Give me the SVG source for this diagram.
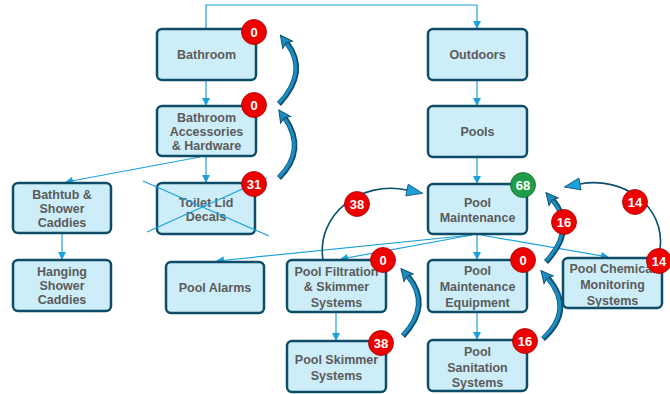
<svg xmlns="http://www.w3.org/2000/svg" width="670" height="394" viewBox="0 0 670 394">
<defs>
<style>
.node rect{fill:#cdeef9;stroke:#0f4c68;stroke-width:2.5}
.node text{font-family:"Liberation Sans",Arial,sans-serif;font-weight:bold;font-size:12.5px;fill:#5b5b5b;text-anchor:middle}
.conn{fill:none;stroke:#1ba1dc;stroke-width:1.2}
.badge circle{stroke:#a00000;stroke-width:0.8}
.badge text{font-family:"Liberation Sans",Arial,sans-serif;font-weight:bold;font-size:13px;fill:#fff;text-anchor:middle}
.red{fill:#ee0000}
.green{fill:#1e9e48}
.arcO{fill:none;stroke:#0d4f6e;stroke-width:5.5;stroke-linecap:butt}
.arcI{fill:none;stroke:#1b8fc4;stroke-width:3;stroke-linecap:butt}
.thin{fill:none;stroke:#0d4f6e;stroke-width:1.6}
</style>
<marker id="ah" viewBox="0 0 8 8" refX="7" refY="4" markerWidth="8" markerHeight="8" markerUnits="userSpaceOnUse" orient="auto">
<path d="M0,0 L8,4 L0,8 Z" fill="#1ba1dc"/>
</marker>
<marker id="big" viewBox="-1 -7 14 14" refX="1" refY="0" markerWidth="14" markerHeight="14" markerUnits="userSpaceOnUse" orient="auto">
<path d="M0,-6 L12,0 L0,6 L2.5,0 Z" fill="#1b8fc4" stroke="#0d4f6e" stroke-width="1"/>
</marker>
<marker id="tri" viewBox="-1 -8 18 16" refX="0" refY="0" markerWidth="18" markerHeight="16" markerUnits="userSpaceOnUse" orient="auto">
<path d="M0,-6 L16,0 L0,6 Z" fill="#1ba1dc" stroke="#0d4f6e" stroke-width="0.8"/>
</marker>
</defs>
<rect width="670" height="394" fill="#fff"/>
<g id="connectors">
<path class="conn" d="M206,29 V5 H477 V28" marker-end="url(#ah)"/>
<path class="conn" d="M206,80 V105" marker-end="url(#ah)"/>
<path class="conn" d="M206,156 V182" marker-end="url(#ah)"/>
<path class="conn" d="M200,157 L66,182" marker-end="url(#ah)"/>
<path class="conn" d="M62,233 V259" marker-end="url(#ah)"/>
<path class="conn" d="M477,80 V105" marker-end="url(#ah)"/>
<path class="conn" d="M477,157 V183" marker-end="url(#ah)"/>
<path class="conn" d="M472,235 L217,261" marker-end="url(#ah)"/>
<path class="conn" d="M472,235 L341,259" marker-end="url(#ah)"/>
<path class="conn" d="M477,234 V259" marker-end="url(#ah)"/>
<path class="conn" d="M481,235 L608,257" marker-end="url(#ah)"/>
<path class="conn" d="M336,312 V340" marker-end="url(#ah)"/>
<path class="conn" d="M477,312 V339" marker-end="url(#ah)"/>
</g>
<g id="bathroom" class="node"><rect x="157" y="29" width="99" height="51" rx="5"/><text x="206.5" y="59">Bathroom</text></g>
<g id="accessories" class="node"><rect x="157" y="106" width="99" height="50" rx="5"/><text x="206.5" y="121.5">Bathroom</text><text x="206.5" y="135.5">Accessories</text><text x="206.5" y="149.5">&amp; Hardware</text></g>
<g id="outdoors" class="node"><rect x="428" y="29" width="99" height="51" rx="5"/><text x="477.5" y="59">Outdoors</text></g>
<g id="pools" class="node"><rect x="428" y="106" width="99" height="51" rx="5"/><text x="477.5" y="136">Pools</text></g>
<g id="bathtub" class="node"><rect x="13" y="183" width="98" height="50" rx="5"/><text x="62" y="198.5">Bathtub &amp;</text><text x="62" y="212.5">Shower</text><text x="62" y="226.5">Caddies</text></g>
<g id="toilet" class="node"><rect x="157" y="183" width="98" height="51" rx="5"/><text x="206" y="206.5">Toilet Lid</text><text x="206" y="220.5">Decals</text></g>
<g id="hanging" class="node"><rect x="13" y="260" width="98" height="51" rx="5"/><text x="62" y="275.5">Hanging</text><text x="62" y="289.5">Shower</text><text x="62" y="303.5">Caddies</text></g>
<g id="poolmaint" class="node"><rect x="428" y="184" width="99" height="50" rx="5"/><text x="477.5" y="206.5">Pool</text><text x="477.5" y="221.5">Maintenance</text></g>
<g id="alarms" class="node"><rect x="166" y="262" width="98" height="51" rx="5"/><text x="215" y="291.5">Pool Alarms</text></g>
<g id="filtration" class="node"><rect x="287" y="260" width="99" height="52" rx="5"/><text x="336.5" y="275.5">Pool Filtration</text><text x="336.5" y="291">&amp; Skimmer</text><text x="336.5" y="306.5">Systems</text></g>
<g id="equipment" class="node"><rect x="428" y="260" width="99" height="52" rx="5"/><text x="477.5" y="275">Pool</text><text x="477.5" y="291">Maintenance</text><text x="477.5" y="306.5">Equipment</text></g>
<g id="chemical" class="node"><rect x="563" y="258" width="99" height="50" rx="5"/><text x="612.5" y="272.5">Pool Chemical</text><text x="612.5" y="289">Monitoring</text><text x="612.5" y="304.5">Systems</text></g>
<g id="skimmer" class="node"><rect x="287" y="341" width="99" height="51" rx="5"/><text x="336.5" y="363.5">Pool Skimmer</text><text x="336.5" y="379.5">Systems</text></g>
<g id="sanitation" class="node"><rect x="428" y="340" width="99" height="51" rx="5"/><text x="477.5" y="355.5">Pool</text><text x="477.5" y="371.5">Sanitation</text><text x="477.5" y="386.5">Systems</text></g>
<g id="cross">
<line class="conn" x1="143" y1="181" x2="269" y2="236"/>
<line class="conn" x1="147" y1="232" x2="267" y2="178"/>
</g>
<g id="loops">
<path class="arcO" d="M279,104 Q309,72 287,43"/>
<path class="arcI" d="M279,103 Q308,72 287,44" marker-end="url(#big)"/>
<path class="arcO" d="M279,178 Q307,150 285,118"/>
<path class="arcI" d="M279,177 Q306,150 285,119" marker-end="url(#big)"/>
<path class="arcO" d="M546,262 Q577,229 553,200"/>
<path class="arcI" d="M546,261 Q576,229 553,201" marker-end="url(#big)"/>
<path class="arcO" d="M403,336 Q432,305 408,276"/>
<path class="arcI" d="M403,335 Q431,305 408,277" marker-end="url(#big)"/>
<path class="arcO" d="M543,339 Q575,310 548,278"/>
<path class="arcI" d="M543,338 Q574,310 548,279" marker-end="url(#big)"/>
<path class="thin" d="M323,260 C316,215 360,180 407,190" marker-end="url(#tri)"/>
<path class="thin" d="M660,250 C666,205 622,176 580,184" marker-end="url(#tri)"/>
</g>
<g id="badges" class="badge">
<circle class="red" cx="254" cy="32" r="12.5"/><text x="254" y="36.5">0</text>
<circle class="red" cx="254" cy="105" r="12.5"/><text x="254" y="109.5">0</text>
<circle class="red" cx="254" cy="184" r="12.5"/><text x="254" y="188.5">31</text>
<circle class="green" cx="523" cy="185" r="12.5" style="stroke:#0d6a2c"/><text x="523" y="189.5">68</text>
<circle class="red" cx="383" cy="260" r="12.5"/><text x="383" y="264.5">0</text>
<circle class="red" cx="523" cy="260" r="12.5"/><text x="523" y="264.5">0</text>
<circle class="red" cx="659" cy="261" r="12.5"/><text x="659" y="265.5">14</text>
<circle class="red" cx="381" cy="343" r="12.5"/><text x="381" y="347.5">38</text>
<circle class="red" cx="525" cy="341" r="12.5"/><text x="525" y="345.5">16</text>
<circle class="red" cx="357" cy="204" r="12.5"/><text x="357" y="208.5">38</text>
<circle class="red" cx="564" cy="222" r="12.5"/><text x="564" y="226.5">16</text>
<circle class="red" cx="635" cy="202" r="12.5"/><text x="635" y="206.5">14</text>
</g>
</svg>
